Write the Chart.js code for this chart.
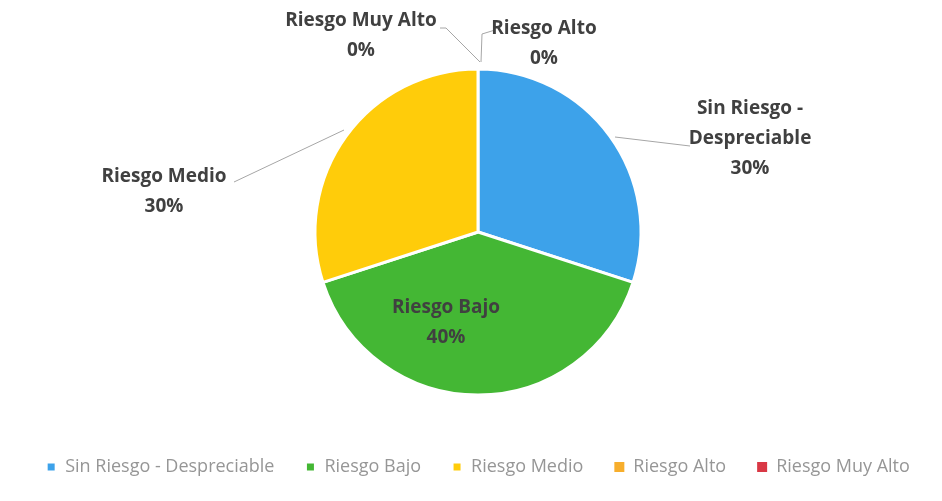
<!DOCTYPE html>
<html>
<head>
<meta charset="utf-8">
<script src="https://cdn.jsdelivr.net/npm/chart.js@4"></script>
<style>
  html, body { margin: 0; padding: 0; background: #fff; }
  #wrap { width: 942px; height: 501px; }
</style>
</head>
<body>
<div id="wrap"><canvas id="riesgoChart"></canvas></div>
<script>
const categorias = ['Sin Riesgo - Despreciable', 'Riesgo Bajo', 'Riesgo Medio', 'Riesgo Alto', 'Riesgo Muy Alto'];
const porcentajes = [30, 40, 30, 0, 0];
const colores = ['#3da2ea', '#44b734', '#ffcc0a', '#f7ae2c', '#d93845'];

// etiquetas: offsets respecto al centro del pie, lineas guia
const etiquetas = [
  { lineas: ['Sin Riesgo -', 'Despreciable'], dx: 272, dy: -123, guia: [[137, -95], [212, -86]] },
  { lineas: ['Riesgo Bajo'], dx: -32, dy: 76, guia: null },
  { lineas: ['Riesgo Medio'], dx: -314, dy: -55, guia: [[-134, -102], [-244, -50]] },
  { lineas: ['Riesgo Alto'], dx: 66, dy: -203, guia: [[3, -170], [4, -198], [17, -202]] },
  { lineas: ['Riesgo Muy Alto'], dx: -117, dy: -211, guia: [[2, -170], [-32, -204], [-38, -204]] }
];

const labelPlugin = {
  id: 'etiquetasPie',
  afterDatasetsDraw(chart) {
    const ctx = chart.ctx;
    const arc = chart.getDatasetMeta(0).data[0];
    const cx = arc.x, cy = arc.y;
    ctx.save();
    etiquetas.forEach((e, i) => {
      if (e.guia) {
        ctx.beginPath();
        ctx.strokeStyle = '#a6a6a6';
        ctx.lineWidth = 1;
        e.guia.forEach((p, j) => {
          if (j === 0) ctx.moveTo(cx + p[0], cy + p[1]);
          else ctx.lineTo(cx + p[0], cy + p[1]);
        });
        ctx.stroke();
      }
      const textos = e.lineas.concat([porcentajes[i] + '%']);
      ctx.font = 'bold 19px "Open Sans"';
      ctx.fillStyle = '#404040';
      ctx.textAlign = 'center';
      ctx.textBaseline = 'middle';
      textos.forEach((t, k) => {
        ctx.fillText(t, cx + e.dx, cy + e.dy + k * 30);
      });
    });
    ctx.restore();
  }
};

new Chart(document.getElementById('riesgoChart').getContext('2d'), {
  type: 'pie',
  data: {
    labels: categorias,
    datasets: [{
      data: porcentajes,
      backgroundColor: colores,
      borderColor: '#ffffff',
      borderWidth: porcentajes.map(v => v > 0 ? 3 : 0),
      radius: 163
    }]
  },
  options: {
    responsive: true,
    maintainAspectRatio: false,
    animation: false,
    layout: { padding: { top: 37, bottom: 15, left: 14, right: 0 } },
    plugins: {
      tooltip: { enabled: false },
      legend: {
        position: 'bottom',
        labels: {
          boxWidth: 10,
          boxHeight: 10,
          padding: 31,
          color: '#969696',
          font: { family: 'Open Sans', size: 18 }
        }
      }
    }
  },
  plugins: [labelPlugin]
});
</script>
</body>
</html>
